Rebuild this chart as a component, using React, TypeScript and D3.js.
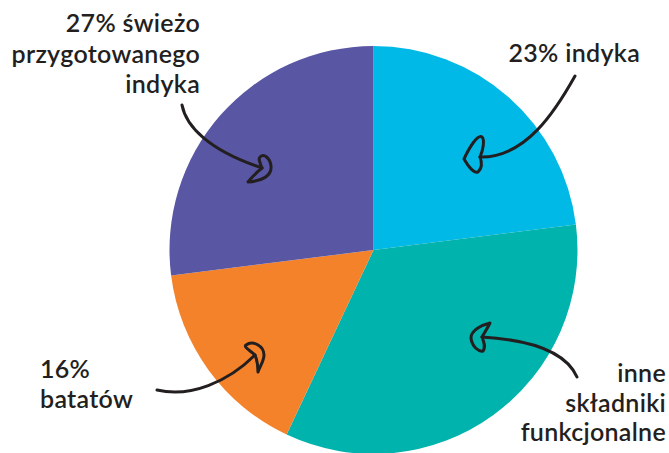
import React from "react";
import * as d3 from "d3";

const categories = ["indyka", "inne składniki funkcjonalne", "batatów", "świeżo przygotowanego indyka"];
const values = [23, 34, 16, 27];
const colors = ["#00B9E7", "#00B3AC", "#F4822A", "#5956A4"];

const labelLines = [
  ["23% indyka"],
  ["inne", "składniki", "funkcjonalne"],
  ["16%", "batatów"],
  ["27% świeżo", "przygotowanego", "indyka"],
];

const W = 669;
const H = 453;
const CX = 373.5;
const CY = 250;
const R = 204;

const labelLayout = [
  { x: 640, y: 62, anchor: "end", dy: 30 },
  { x: 666, y: 382, anchor: "end", dy: 29.5 },
  { x: 40, y: 378, anchor: "start", dy: 30 },
  { x: 200, y: 32, anchor: "end", dy: 30.5 },
];

const arrowPaths = [
  {
    line: "M575,76 C556,110 526,158 480,157",
    head: "M480,157 C483,150 485,140 482,137 C478,134 470,146 464,159 C468,166 474,174 478,172 C482,168 482,162 480,157",
  },
  {
    line: "M577,377 C566,352 532,340 482,337",
    head: "M482,337 C485,332 488,327 490,323 C482,325 471,330 471,338 C472,347 479,352 483,351 C486,347 484,342 482,337",
  },
  {
    line: "M157,390 C190,398 228,382 255,355",
    head: "M255,355 C251,351 243,347 246,345 C253,340 264,346 264,355 C264,361 260,366 258,372 C258,366 257,360 255,355",
  },
  {
    line: "M182,105 C186,126 208,150 262,168",
    head: "M262,168 C260,163 258,159 260,157 C264,153 270,158 271,166 C272,176 262,181 248,182 C252,177 257,172 262,168",
  },
];

export default function App() {
  const pie = d3.pie<number>().sort(null).value((d) => d)(values);
  const arc = d3.arc<d3.PieArcDatum<number>>().innerRadius(0).outerRadius(R);
  const font = "Lato, 'Open Sans', sans-serif";
  return (
    <svg
      width={W}
      height={H}
      style={{ position: "absolute", left: 0, top: 0 }}
    >
      <rect width={W} height={H} fill="#ffffff" />
      <g transform={`translate(${CX},${CY})`}>
        {pie.map((p, i) => (
          <path key={categories[i]} d={arc(p) || ""} fill={colors[i]} />
        ))}
      </g>
      {arrowPaths.map((a, i) => (
        <g key={i} fill="none" stroke="#231F20" strokeWidth={3} strokeLinecap="round" strokeLinejoin="round">
          <path d={a.line} />
          <path d={a.head} />
        </g>
      ))}
      {labelLines.map((lines, i) => {
        const L = labelLayout[i];
        return (
          <text
            key={i}
            x={L.x}
            y={L.y}
            textAnchor={L.anchor as any}
            fontFamily={font}
            fontWeight={600}
            fontSize={25}
            letterSpacing={0.3}
            fill="#231F20"
          >
            {lines.map((t, j) => (
              <tspan key={j} x={L.x} y={L.y + j * L.dy}>
                {t}
              </tspan>
            ))}
          </text>
        );
      })}
    </svg>
  );
}
